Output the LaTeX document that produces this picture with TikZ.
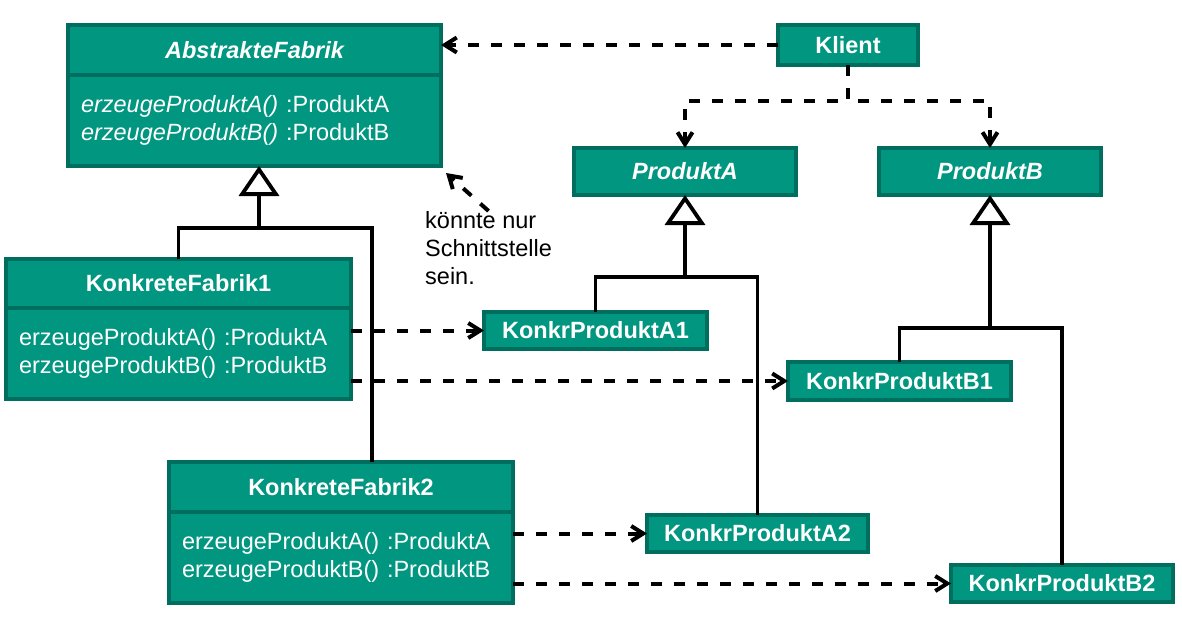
\documentclass[tikz,border=0pt]{standalone}
\usepackage{fontspec}
\setmainfont{Liberation Sans}
\usetikzlibrary{arrows.meta,calc}
\definecolor{tfill}{RGB}{0,150,128}
\definecolor{tdraw}{RGB}{0,110,94}
\begin{document}
\begin{tikzpicture}[x=1pt,y=-1pt,
  box/.style={draw=tdraw, fill=tfill, line width=4pt, inner sep=0pt, outer sep=0pt,
    text=white, font=\fontsize{23.5}{28}\selectfont\bfseries},
  hdr/.style={box, anchor=north west},
  body/.style={draw=tdraw, fill=tfill, line width=4pt, inner xsep=13pt, inner ysep=0pt,
    outer sep=0pt, text=white, align=left, anchor=north west,
    font=\fontsize{23.5}{28}\selectfont},
  dep/.style={line width=4pt, dash pattern=on 11pt off 12pt,
    -{Straight Barb[length=12pt,width=15pt]}},
  gen/.style={line width=3.8pt, -{Triangle[length=30pt,width=40pt,fill=white]}},
  solidl/.style={line width=3.8pt},
  notetext/.style={align=left, inner sep=0pt, anchor=north west,
    font=\fontsize{23.5}{28}\selectfont}
]
\useasboundingbox (0,0) rectangle (1182,621);

% abstract factory
\node[hdr, minimum width=373pt, minimum height=50pt] (af) at (68,25) {\itshape AbstrakteFabrik};
\node[body, text width=347pt, minimum height=91pt] (afb) at (af.south west)
  {\textit{erzeugeProduktA()} :ProduktA\\\textit{erzeugeProduktB()} :ProduktB};

% concrete factory 1
\node[hdr, minimum width=345pt, minimum height=49pt] (kf1) at (6,259) {KonkreteFabrik1};
\node[body, text width=319pt, minimum height=91pt] (kf1b) at (kf1.south west)
  {erzeugeProduktA() :ProduktA\\erzeugeProduktB() :ProduktB};

% concrete factory 2
\node[hdr, minimum width=344pt, minimum height=50pt] (kf2) at (169,462) {KonkreteFabrik2};
\node[body, text width=318pt, minimum height=91pt] (kf2b) at (kf2.south west)
  {erzeugeProduktA() :ProduktA\\erzeugeProduktB() :ProduktB};

% client and products
\node[box, minimum width=140pt, minimum height=40pt] (kl) at (848,45) {Klient};
\node[box, minimum width=222pt, minimum height=47pt] (pa) at (685,171.5) {\itshape ProduktA};
\node[box, minimum width=222pt, minimum height=47pt] (pb) at (990,171.5) {\itshape ProduktB};
\node[box, minimum width=223pt, minimum height=37pt] (kpa1) at (595.5,330.5) {KonkrProduktA1};
\node[box, minimum width=223pt, minimum height=38pt] (kpb1) at (899.5,381) {KonkrProduktB1};
\node[box, minimum width=221pt, minimum height=37pt] (kpa2) at (757.5,533.5) {KonkrProduktA2};
\node[box, minimum width=222pt, minimum height=37pt] (kpb2) at (1062,583.5) {KonkrProduktB2};

% note
\node[notetext] (note) at (425,211) {könnte nur\\Schnittstelle\\sein.};
\coordinate (ne) at (446,173);

% junctions
\coordinate (jf) at (259,228);
\coordinate (ja) at (685,277);
\coordinate (jb) at (990,328);
\coordinate (kf2top) at (372,462);

% generalization
\draw[solidl] (kf1.north) |- (jf);
\draw[solidl] (kf2top) |- (jf);
\draw[gen] (jf) -- (jf |- afb.south);
\draw[solidl] (kpa1.north) |- (ja);
\draw[solidl] (kpa2.north) |- (ja);
\draw[gen] (ja) -- (pa.south);
\draw[solidl] (kpb1.north) |- (jb);
\draw[solidl] (kpb2.north) |- (jb);
\draw[gen] (jb) -- (pb.south);

% dependencies
\draw[dep] (kl.west) -- (af.east |- kl.west);
\draw[dep] (kl.south) -- ++(0,36) -| (pa.north);
\draw[dep] (kl.south) -- ++(0,36) -| (pb.north);
\draw[dep] (note.north) -- (ne);
\draw[dep] (kf1b.east |- kpa1.west) -- (kpa1.west);
\draw[dep] (kf1b.east |- kpb1.west) -- (kpb1.west);
\draw[dep] (kf2b.east |- kpa2.west) -- (kpa2.west);
\draw[dep] (kf2b.east |- kpb2.west) -- (kpb2.west);
\end{tikzpicture}
\end{document}
